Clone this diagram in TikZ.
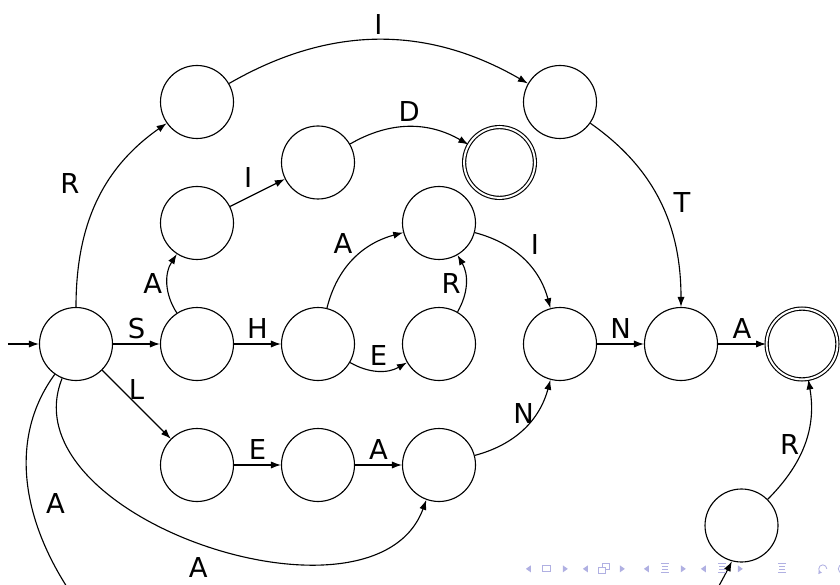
\documentclass[tikz,border=0pt]{standalone}
\usepackage{fontspec}
\setmainfont{DejaVu Sans}
\usetikzlibrary{arrows.meta, positioning, calc}
\definecolor{navblue}{RGB}{176,176,226}

\begin{document}
\begin{tikzpicture}[x=3.025cm, y=3.025cm, line width=0.8pt,
    >={Latex[length=2.5mm,width=1.8mm]},
    state/.style={draw, circle, minimum size=1.825cm, inner sep=0pt},
    accept/.style={state, minimum size=1.77cm, double, double distance=1.4pt},
    lbl/.style={font=\fontsize{19.5}{23}\selectfont}]

    \useasboundingbox (-0.6281,-1.9835) rectangle (6.3140,2.8430);
    \clip (-0.6281,-1.9835) rectangle (6.3140,2.8430);

    % --- Main row ---
    \node[state] (q0) at (0,0) {};
    \node[state] (s) at (1,0) {};
    \node[state] (h) at (2,0) {};
    \node[state] (e) at (3,0) {};
    \node[state] (n) at (4,0) {};
    \node[state] (a) at (5,0) {};
    \node[accept] (fin) at (6,0) {};

    % --- Upper states ---
    \node[state] (r) at (1,2) {};
    \node[state] (ri) at (4,2) {};
    \node[state] (sa) at (1,1) {};
    \node[state] (si) at (2,1.5) {};
    \node[accept] (sid) at (3.5,1.5) {};
    \node[state] (har) at (3,1) {};

    % --- Lower states ---
    \node[state] (l) at (1,-1) {};
    \node[state] (le) at (2,-1) {};
    \node[state] (lea) at (3,-1) {};
    \node[state] (br) at (5.5,-1.5) {};

    % --- Start arrow ---
    \coordinate (start) at (-0.562,0);
    \draw[->] (start) -- (q0);

    % --- Main row transitions ---
    \draw[->] (q0) -- node[lbl, above] {S} (s);
    \draw[->] (s) -- node[lbl, above] {H} (h);
    \draw[->] (h) to[bend right=30] node[lbl, above] {E} (e);
    \draw[->] (e) to[bend right=30] node[lbl, left] {R} (har);
    \draw[->] (h) to[out=76, in=195] node[lbl, above left, xshift=1mm] {A} (har);
    \draw[->] (har) to[out=-15, in=105] node[lbl, above right, xshift=0.5mm] {I} (n);
    \draw[->] (n) -- node[lbl, above] {N} (a);
    \draw[->] (a) -- node[lbl, above] {A} (fin);

    % --- Upper branches ---
    \draw[->] (s) to[bend left=33] node[lbl, left] {A} (sa);
    \draw[->] (sa) -- node[lbl, above left] {I} (si);
    \draw[->] (si) to[out=30, in=150] node[lbl, above] {D} (sid);
    \draw[->] (q0) to[out=90, in=215] node[lbl, above left, xshift=-3mm, yshift=1mm] {R} (r);
    \draw[->] (r) to[out=30, in=150] node[lbl, above] {I} (ri);
    \draw[->] (ri) to[out=-35, in=90] node[lbl, right, xshift=2mm] {T} (a);

    % --- Lower branches ---
    \draw[->] (q0) -- node[lbl, above] {L} (l);
    \draw[->] (l) -- node[lbl, above] {E} (le);
    \draw[->] (le) -- node[lbl, above] {A} (lea);
    \draw[->] (lea) to[out=15, in=255] node[lbl, above] {N} (n);
    \draw[->] (q0) to[out=248, in=250] node[lbl, below=2.5mm, pos=0.49] {A} (lea);
    \draw[->] (q0.235) .. controls (-1.537,-2.116) and (3.339,-5.835) .. (br.255)
        node[lbl, pos=0.17, right=2.5mm] {A};
    \draw[->] (br) to[out=45, in=-80] node[lbl, left] {R} (fin);

    % --- Navigation symbols (pixel units) ---
    \begin{scope}[shift={(-0.6281,2.8430)}, x=0.025cm, y=-0.025cm,
        navblue, line width=0.6pt]
        \foreach \cx in {547,604,665,722} {
            \fill (\cx-21,569) -- (\cx-16,565.5) -- (\cx-16,572.5) -- cycle;
            \fill (\cx+21,569) -- (\cx+16,565.5) -- (\cx+16,572.5) -- cycle;
        }
        \draw (543,566) rectangle (551,572);
        \draw[fill=white] (603,564) rectangle (610,570);
        \draw[fill=white] (599,567.5) rectangle (606,573.5);
        \foreach \cx in {665,722,782} {
            \draw (\cx-4,563.5) -- (\cx+4,563.5);
            \draw (\cx-2.5,566.5) -- (\cx+3,566.5);
            \draw (\cx-2.5,569.5) -- (\cx+3,569.5);
            \draw (\cx-4,572.5) -- (\cx+4,572.5);
        }
        \draw[-{Latex[length=2.5pt,width=3pt]}] (827,569) arc (0:-260:4);
        \draw (843,569) circle (4.5);
    \end{scope}

\end{tikzpicture}
\end{document}
